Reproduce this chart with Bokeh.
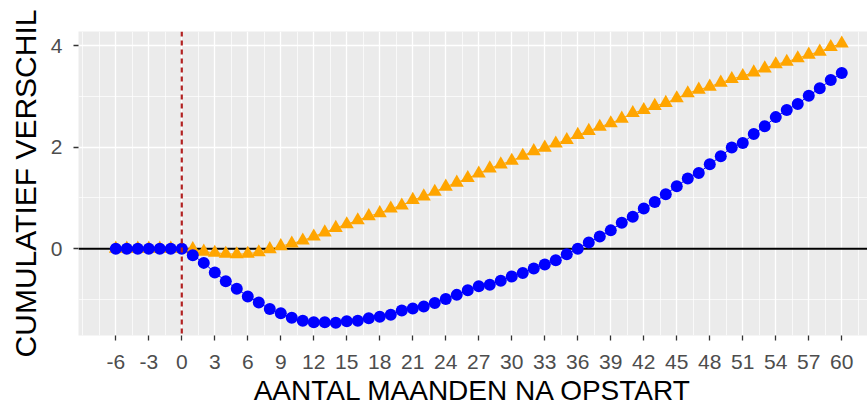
from bokeh.plotting import figure
from bokeh.models import Range1d, FixedTicker, Span, ColumnDataSource
from bokeh.embed import file_html
from bokeh.resources import INLINE

# ---- data ----
months = list(range(-6, 61))
blue_vals = [0, 0, 0, 0, 0, 0, 0,
             -0.13, -0.28, -0.47, -0.64, -0.79, -0.94, -1.06, -1.19, -1.27, -1.36,
             -1.42, -1.45, -1.45, -1.46, -1.43, -1.42, -1.37, -1.34, -1.30, -1.22,
             -1.18, -1.14, -1.07, -0.99, -0.91, -0.82, -0.74, -0.71, -0.63, -0.55,
             -0.48, -0.39, -0.31, -0.23, -0.11, 0.00, 0.12, 0.24, 0.36, 0.51,
             0.63, 0.79, 0.92, 1.07, 1.23, 1.38, 1.49, 1.66, 1.82, 1.99,
             2.08, 2.26, 2.41, 2.59, 2.73, 2.85, 3.01, 3.16, 3.32, 3.46]
orange_vals = [0, 0, 0, 0, 0, 0, 0,
               -0.01, -0.06, -0.08, -0.10, -0.11, -0.10, -0.07, -0.01, 0.05, 0.10,
               0.16, 0.24, 0.32, 0.41, 0.48, 0.56, 0.64, 0.70, 0.79, 0.85,
               0.96, 1.03, 1.12, 1.22, 1.30, 1.39, 1.48, 1.58, 1.66, 1.73,
               1.83, 1.92, 1.99, 2.07, 2.14, 2.24, 2.32, 2.40, 2.47, 2.56,
               2.67, 2.73, 2.81, 2.87, 2.96, 3.06, 3.13, 3.19, 3.27, 3.34,
               3.40, 3.47, 3.55, 3.63, 3.68, 3.75, 3.82, 3.88, 3.97, 4.04]
x_tick_vals = list(range(-6, 61, 3))
x_minor_vals = [-9] + [t + 1.5 for t in range(-9, 61, 3)]
y_tick_vals = [0, 2, 4]
y_minor_vals = [-1, 1, 3]
x_title = "AANTAL MAANDEN NA OPSTART"
y_title = "CUMULATIEF VERSCHIL"

FONT = "Liberation Sans"

src = ColumnDataSource(dict(x=months, blue=blue_vals, orange=orange_vals))

p = figure(width=867, height=412, output_backend="svg", toolbar_location=None,
           x_range=Range1d(-9.39, 62.34), y_range=Range1d(-1.71, 4.276),
           min_border_left=78, min_border_right=0, min_border_top=31,
           min_border_bottom=77)
p.background_fill_color = "#EBEBEB"
p.border_fill_color = "white"
p.outline_line_color = None

# axes
p.xaxis.ticker = FixedTicker(ticks=x_tick_vals, minor_ticks=x_minor_vals)
p.yaxis.ticker = FixedTicker(ticks=y_tick_vals, minor_ticks=y_minor_vals)
p.xaxis.major_label_overrides = {t: str(t) for t in x_tick_vals}
p.yaxis.major_label_overrides = {t: str(t) for t in y_tick_vals}
for ax in (p.xaxis[0], p.yaxis[0]):
    ax.axis_line_color = None
    ax.major_tick_line_color = "#333333"
    ax.major_tick_line_width = 1.3
    ax.major_tick_out = 5
    ax.major_tick_in = 0
    ax.minor_tick_line_color = None
    ax.major_label_text_font = FONT
    ax.major_label_text_font_size = "21px"
    ax.major_label_text_color = "#4D4D4D"
    ax.axis_label_text_font = FONT
    ax.axis_label_text_font_style = "normal"
    ax.axis_label_text_color = "black"
p.xaxis.major_label_standoff = 14
p.yaxis.major_label_standoff = 11

p.yaxis.axis_label = y_title
p.yaxis.axis_label_text_font_size = "30px"
p.yaxis.axis_label_standoff = 6

p.xaxis.axis_label = x_title
p.xaxis.axis_label_text_font_size = "28px"
p.xaxis.axis_label_standoff = 3

# grid
for g in (p.xgrid[0], p.ygrid[0]):
    g.grid_line_color = "white"
    g.grid_line_width = 1.3
    g.minor_grid_line_color = "white"
    g.minor_grid_line_width = 0.7
p.xgrid.ticker = FixedTicker(ticks=x_tick_vals, minor_ticks=x_minor_vals)
p.ygrid.ticker = FixedTicker(ticks=y_tick_vals, minor_ticks=y_minor_vals)

# zero line
p.add_layout(Span(location=0, dimension="width", line_color="black",
                  line_width=2, level="underlay"))

# series
p.line("x", "orange", source=src, line_color="orange", line_width=1)
p.scatter("x", "orange", source=src, marker="triangle", size=14,
          fill_color="orange", line_color=None)
p.line("x", "blue", source=src, line_color="blue", line_width=1)
p.scatter("x", "blue", source=src, marker="circle", size=12,
          fill_color="blue", line_color=None)

# start line
p.add_layout(Span(location=0, dimension="height", line_color="#B22222",
                  line_width=2.2, line_dash="5 4"))

open("out.html", "w").write(file_html(p, INLINE))
